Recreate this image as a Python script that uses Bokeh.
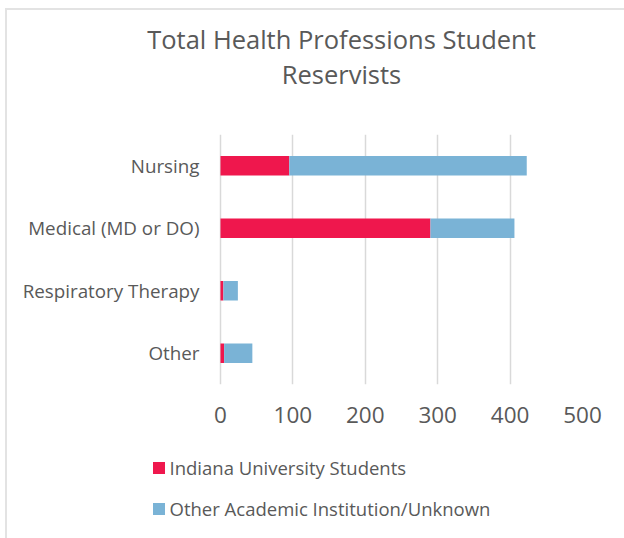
from bokeh.plotting import figure
from bokeh.models import ColumnDataSource, Range1d, FactorRange, Label, Legend, FixedTicker
from bokeh.core.properties import value
from bokeh.layouts import column
from bokeh.embed import file_html
from bokeh.resources import INLINE

categories = ["Nursing", "Medical (MD or DO)", "Respiratory Therapy", "Other"]
indiana = [95, 290, 4, 5]
other_inst = [328, 116, 20, 39]
series_names = ["Indiana University Students", "Other Academic Institution/Unknown"]
x_ticks = [0, 100, 200, 300, 400, 500]
title_lines = ["Total Health Professions Student", "Reservists"]

RED = "#EF174D"
BLUE = "#7AB3D6"
GREY = "#595959"
FONT = "Open Sans"
W = 617
BL, BR = 13, 42          # frame borders shared by all three blocks
X_START = -276.24        # leaves room left of 0 for the category labels

source = ColumnDataSource(dict(cat=categories, iu=indiana, oth=other_inst,
                               zero=[0] * len(categories)))

# ---- title block ----
pt = figure(width=W, height=100, output_backend="svg", toolbar_location=None,
            x_axis_type=None, y_axis_type=None, min_border=0,
            min_border_left=BL, min_border_right=BR,
            x_range=Range1d(0, 1), y_range=Range1d(0, 1))
pt.outline_line_color = None
pt.grid.visible = False
for txt, yy in zip(title_lines, [72, 37]):
    pt.add_layout(Label(x=321, y=yy, x_units="screen", y_units="screen", text=txt,
                        text_align="center", text_baseline="alphabetic",
                        text_font=FONT, text_font_size="25.5px", text_color=GREY))

# ---- chart ----
p = figure(width=W, height=330, output_backend="svg", toolbar_location=None,
           y_range=FactorRange(factors=list(reversed(categories)), range_padding=0),
           x_range=Range1d(X_START, 500), y_axis_location=None,
           min_border_left=BL, min_border_right=BR, min_border_top=24, min_border_bottom=56)

renderers = p.hbar_stack(["iu", "oth"], y="cat", height=0.31, color=[RED, BLUE],
                         line_color=None, source=source)
p.text(x="zero", y="cat", text="cat", source=source, x_offset=-21,
       text_align="right", text_baseline="middle", text_font=value(FONT),
       text_font_size="18.8px", text_color=GREY)

p.outline_line_color = None
p.ygrid.grid_line_color = None
p.xgrid.ticker = FixedTicker(ticks=x_ticks)
p.xgrid.grid_line_color = "#d9d9d9"
p.xgrid.grid_line_width = 1.5
p.xaxis.ticker = FixedTicker(ticks=x_ticks)
p.xaxis.axis_line_color = None
p.xaxis.major_tick_line_color = None
p.xaxis.minor_tick_line_color = None
p.xaxis.major_tick_out = 0
p.xaxis.major_label_standoff = 22
p.xaxis.major_label_text_font = FONT
p.xaxis.major_label_text_font_size = "22.5px"
p.xaxis.major_label_text_color = GREY

# ---- legend block ----
pl = figure(width=W, height=98, output_backend="svg", toolbar_location=None,
            x_axis_type=None, y_axis_type=None, min_border=0,
            min_border_left=BL, min_border_right=BR,
            x_range=Range1d(-1000, -900), y_range=FactorRange(factors=categories))
pl.outline_line_color = None
pl.grid.visible = False
lrs = pl.hbar_stack(["iu", "oth"], y="cat", height=0.31, color=[RED, BLUE],
                    line_color=None, source=source)
for r in lrs:
    r.visible = False
legend = Legend(items=[(series_names[0], [lrs[0]]), (series_names[1], [lrs[1]])],
                location=(130.5, 17), orientation="vertical",
                glyph_width=15, glyph_height=15, label_height=24, spacing=16,
                label_standoff=4, padding=0, margin=0,
                border_line_alpha=0, background_fill_alpha=0,
                inactive_fill_alpha=0,
                label_text_font=FONT, label_text_font_size="18.5px", label_text_color=GREY)
pl.add_layout(legend, "center")

layout = column(pt, p, pl, spacing=0,
                styles={"border-top": "2px solid #e3e3e3", "border-left": "2px solid #e3e3e3",
                        "margin-left": "5px", "margin-top": "8px"})

open("out.html", "w").write(file_html(layout, INLINE))
